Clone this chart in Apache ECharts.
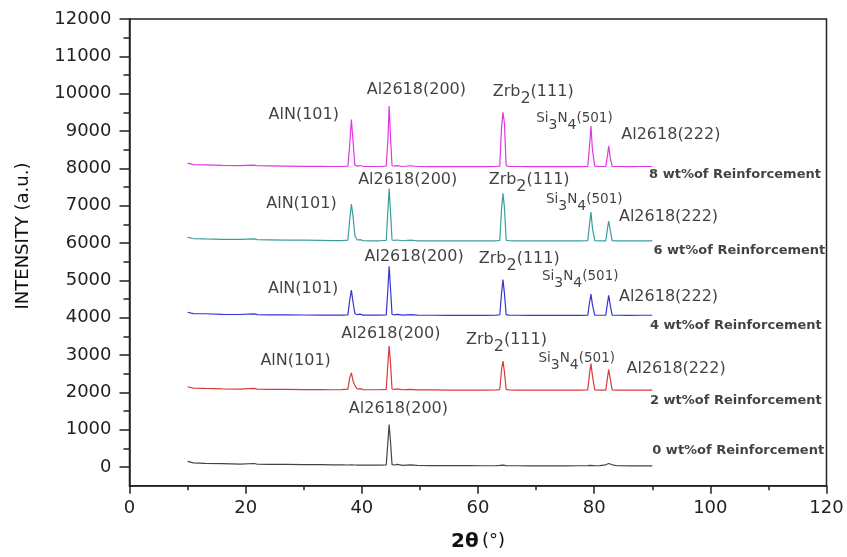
<!DOCTYPE html>
<html>
<head>
<meta charset="utf-8">
<script src="https://cdn.jsdelivr.net/npm/echarts@6/dist/echarts.min.js"></script>
<style>
html,body{margin:0;padding:0;background:#fff;}
#chart{width:847px;height:557px;}
</style>
</head>
<body>
<div id="chart"></div>
<script>
// ---- data ----
const twoTheta = [10, 11, 13, 16, 19, 21.5, 22, 24, 27, 30, 33, 35, 36.5, 37.6, 37.9, 38.2, 38.5, 38.8, 39.2, 39.7,
  40.2, 41.5, 43, 44.2, 44.5, 44.7, 44.95, 45.2, 45.6, 46.1, 47, 48.4, 49.5, 52, 55, 58, 61, 63.2, 63.75, 64.05,
  64.3, 64.55, 64.85, 65.3, 66.5, 69, 72, 75, 77.5, 78.9, 79.2, 79.45, 79.7, 80.1, 81, 82.0, 82.3, 82.5, 82.75, 83.1,
  84, 86, 88, 90];

const wt8 = [8140, 8100, 8095, 8080, 8075, 8085, 8070, 8065, 8060, 8055, 8055, 8050, 8050, 8060, 8600, 9310, 8700, 8090, 8060, 8075,
  8055, 8050, 8050, 8060, 8800, 9670, 8800, 8070, 8060, 8075, 8050, 8070, 8050, 8048, 8045, 8045, 8045, 8050, 8060, 9100,
  9500, 9200, 8070, 8055, 8050, 8045, 8045, 8045, 8045, 8055, 8600, 9130, 8500, 8060, 8050, 8055, 8350, 8600, 8300, 8055,
  8050, 8048, 8050, 8050];

const wt6 = [6150, 6120, 6110, 6100, 6095, 6110, 6090, 6085, 6080, 6075, 6070, 6065, 6065, 6075, 6600, 7040, 6700, 6200, 6080, 6090,
  6065, 6060, 6060, 6070, 6900, 7460, 6800, 6080, 6070, 6080, 6060, 6075, 6060, 6058, 6055, 6055, 6055, 6060, 6070, 6900,
  7330, 6950, 6075, 6062, 6058, 6055, 6055, 6055, 6055, 6065, 6500, 6830, 6400, 6065, 6058, 6060, 6400, 6590, 6350, 6062,
  6058, 6055, 6058, 6058];

const wt4 = [4145, 4110, 4105, 4090, 4085, 4100, 4080, 4078, 4075, 4072, 4070, 4068, 4068, 4075, 4450, 4740, 4400, 4110, 4080, 4095,
  4070, 4068, 4068, 4075, 4800, 5380, 4750, 4085, 4075, 4090, 4068, 4080, 4068, 4065, 4062, 4062, 4062, 4068, 4078, 4650,
  5020, 4650, 4080, 4070, 4065, 4062, 4062, 4062, 4062, 4070, 4400, 4630, 4350, 4070, 4065, 4068, 4400, 4600, 4350, 4070,
  4065, 4062, 4065, 4065];

const wt2 = [2150, 2115, 2105, 2095, 2088, 2105, 2085, 2080, 2078, 2075, 2072, 2070, 2072, 2085, 2380, 2520, 2300, 2180, 2090, 2100,
  2075, 2070, 2070, 2080, 2800, 3240, 2750, 2090, 2078, 2095, 2070, 2082, 2068, 2065, 2062, 2060, 2060, 2065, 2075, 2600,
  2840, 2550, 2080, 2068, 2062, 2060, 2058, 2058, 2058, 2065, 2500, 2770, 2450, 2065, 2060, 2062, 2400, 2610, 2380, 2065,
  2060, 2058, 2060, 2060];

const wt0 = [150, 110, 100, 90, 80, 95, 75, 72, 70, 65, 62, 60, 58, 55, 58, 60, 58, 55, 52, 55,
  50, 50, 50, 55, 700, 1140, 650, 65, 55, 70, 45, 60, 42, 40, 38, 36, 35, 38, 42, 48,
  50, 46, 40, 35, 34, 33, 33, 32, 35, 38, 42, 45, 40, 35, 40, 60, 85, 95, 85, 60,
  35, 30, 30, 32];

const yTickValues = [0, 1000, 2000, 3000, 4000, 5000, 6000, 7000, 8000, 9000, 10000, 11000, 12000];
const yMinorTickValues = [500, 1500, 2500, 3500, 4500, 5500, 6500, 7500, 8500, 9500, 10500, 11500];

// peak annotations (anchor in data coordinates)
const peakText = [
  'AlN(101)', 'Al2618(200)', 'Zrb_2(111)', 'Si_3N_4(501)', 'Al2618(222)',
  'AlN(101)', 'Al2618(200)', 'Zrb_2(111)', 'Si_3N_4(501)', 'Al2618(222)',
  'AlN(101)', 'Al2618(200)', 'Zrb_2(111)', 'Si_3N_4(501)', 'Al2618(222)',
  'AlN(101)', 'Al2618(200)', 'Zrb_2(111)', 'Si_3N_4(501)', 'Al2618(222)',
  'Al2618(200)'
];
const peakX = [
  30.0, 49.4, 69.5, 76.6, 93.2,
  29.6, 47.9, 68.8, 78.3, 92.8,
  29.9, 49.0, 67.1, 77.6, 92.8,
  28.6, 45.0, 64.9, 77.0, 94.1,
  46.3
];
const peakY = [
  9430, 10115, 9960, 9250, 8890,
  7060, 7700, 7590, 7080, 6700,
  4780, 5620, 5490, 5000, 4556,
  2833, 3575, 3300, 2810, 2619,
  1565
];

const groupText = ['8 wt%of Reinforcement', '6 wt%of Reinforcement', '4 wt%of Reinforcement',
  '2 wt%of Reinforcement', '0 wt%of Reinforcement'];
const groupX = [104.25, 105.0, 104.4, 104.4, 104.8];
const groupY = [7845, 5808, 3798, 1788, 448];

// ---- chart ----
const chart = echarts.init(document.getElementById('chart'));
const FONT = 'DejaVu Sans';

function toRich(s, mainKey, subKey) {
  return s.split(/_(\d)/).map((part, i) => part === '' ? '' : (i % 2 ? '{' + subKey + '|' + part + '}' : '{' + mainKey + '|' + part + '}')).join('');
}
function pairs(ys) { return twoTheta.map((x, i) => [x, ys[i]]); }

const lineSeries = [
  {name: '8 wt%', data: wt8, color: '#e236e2'},
  {name: '6 wt%', data: wt6, color: '#3b9e99'},
  {name: '4 wt%', data: wt4, color: '#3535d6'},
  {name: '2 wt%', data: wt2, color: '#d93b3b'},
  {name: '0 wt%', data: wt0, color: '#444444'}
].map(s => ({
  type: 'line', name: s.name, data: pairs(s.data), showSymbol: false, symbol: 'none',
  lineStyle: {width: 1.2, color: s.color}, itemStyle: {color: s.color}, silent: true,
  xAxisIndex: 0, yAxisIndex: 0, z: 3
}));

const peakSeries = {
  type: 'scatter', silent: true, symbolSize: 1, itemStyle: {color: 'rgba(0,0,0,0)'},
  data: peakX.map((x, i) => ({value: [x, peakY[i]], name: peakText[i]})),
  label: {
    show: true, position: 'inside',
    formatter: p => {
      const t = p.name;
      if (t.indexOf('Si_') === 0) return toRich(t, 'sm', 'ss');
      return t.indexOf('_') >= 0 ? toRich(t, 'm', 's') : '{p|' + t + '}';
    },
    rich: {
      p: {fontFamily: FONT, fontSize: 16, color: '#111'},
      m: {fontFamily: FONT, fontSize: 16, color: '#111', verticalAlign: 'bottom', padding: [0, 0, 7, 0]},
      s: {fontFamily: FONT, fontSize: 16, color: '#111', verticalAlign: 'bottom'},
      sm: {fontFamily: FONT, fontSize: 13.5, color: '#111', verticalAlign: 'bottom', padding: [0, 0, 7, 0]},
      ss: {fontFamily: FONT, fontSize: 14, color: '#111', verticalAlign: 'bottom'}
    }
  },
  z: 5
};

const groupSeries = {
  type: 'scatter', silent: true, symbolSize: 1, itemStyle: {color: 'rgba(0,0,0,0)'},
  data: groupX.map((x, i) => ({value: [x, groupY[i]], name: groupText[i]})),
  label: {
    show: true, position: 'inside', formatter: p => p.name,
    fontFamily: FONT, fontSize: 13, fontWeight: 'bold', color: '#111'
  },
  z: 5
};

chart.setOption({
  animation: false,
  backgroundColor: '#fff',
  grid: {left: 129.5, right: 20.5, top: 19, bottom: 71.3, show: true, borderColor: '#222', borderWidth: 1.5, backgroundColor: 'transparent'},
  xAxis: {
    type: 'value', min: 0, max: 120, interval: 20,
    axisLine: {show: true, onZero: false, lineStyle: {color: '#222', width: 1.5}},
    axisTick: {show: true, length: 8, lineStyle: {color: '#222', width: 1.5}},
    minorTick: {show: true, splitNumber: 2, length: 4.5, lineStyle: {color: '#222', width: 1.5}},
    axisLabel: {margin: 14, fontFamily: FONT, fontSize: 18, color: '#222', formatter: v => String(v)},
    splitLine: {show: false}, minorSplitLine: {show: false},
    name: '{b|2θ} {n|(°)}', nameLocation: 'middle', nameGap: 46,
    nameTextStyle: {rich: {
      b: {fontFamily: FONT, fontSize: 20, fontWeight: 'bold', color: '#111'},
      n: {fontFamily: FONT, fontSize: 18, color: '#111'}
    }}
  },
  yAxis: [{
    type: 'value', min: -500, max: 12000,
    axisLine: {show: true, onZero: false, lineStyle: {color: '#222', width: 1.5}},
    axisTick: {show: true, length: 10, customValues: yTickValues, lineStyle: {color: '#222', width: 1.5}},
    axisLabel: {margin: 18, customValues: yTickValues, fontFamily: FONT, fontSize: 18, color: '#222', formatter: v => String(v)},
    splitLine: {show: false}
  }, {
    type: 'value', min: -500, max: 12000, position: 'left',
    axisLine: {show: false},
    axisTick: {show: true, length: 6, customValues: yMinorTickValues, lineStyle: {color: '#222', width: 1.5}},
    axisLabel: {show: false},
    splitLine: {show: false}
  }],
  graphic: [{
    type: 'text', silent: true,
    x: 23, y: 236,
    rotation: Math.PI / 2,
    style: {text: 'INTENSITY (a.u.)', fontFamily: FONT, fontSize: 18, fill: '#111', textAlign: 'center', textVerticalAlign: 'middle', align: 'center', verticalAlign: 'middle'}
  }],
  series: lineSeries.concat([peakSeries, groupSeries])
});
</script>
</body>
</html>
